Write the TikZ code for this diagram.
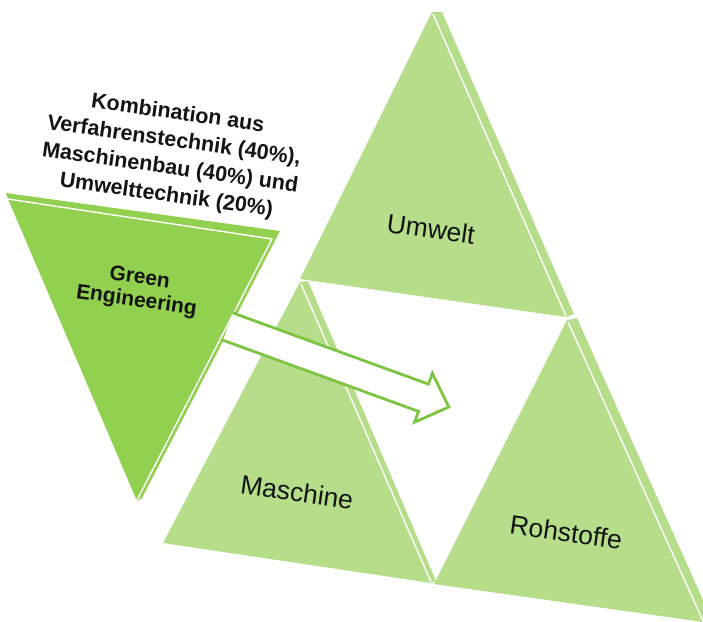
\documentclass[tikz,border=0pt]{standalone}
\usepackage{fontspec}
\setmainfont{Liberation Sans}
\definecolor{leaf}{RGB}{182,221,138}
\definecolor{gegreen}{RGB}{146,208,80}
\definecolor{arrowgreen}{RGB}{124,196,66}
\definecolor{ink}{RGB}{20,20,20}
\begin{document}
\begin{tikzpicture}[x=1pt,y=-1pt,
  lightface/.style={fill=leaf},
  darkface/.style={fill=gegreen},
  bevel/.style={draw=white,line width=1.4pt,line join=round},
  label/.style={text=ink,inner sep=0pt,rotate=-8,font=\fontsize{26.5}{30}\selectfont},
  headline/.style={text=ink,inner sep=0pt,rotate=-8,align=center,font=\fontsize{21}{23}\selectfont\bfseries},
  note/.style={text=ink,inner sep=0pt,rotate=-8,align=center,font=\fontsize{21.5}{27.5}\selectfont\bfseries},
  blockarrow/.style={draw=arrowgreen,line width=2.8pt,line join=miter}]
\useasboundingbox (0,0) rectangle (703,621);
\clip (0,0) rectangle (703,621);

% top triangle (Umwelt) with its side strip
\fill[lightface] (442,12) -- (574,314) -- (566,317) -- (300,279) -- (432,12) -- cycle;
\draw[bevel] (433,14) -- (566,316);

% lower left triangle (Maschine)
\fill[lightface] (308,281) -- (436,581) -- (431,583) -- (163,543) -- (300,282) -- cycle;
\draw[bevel] (301,284) -- (431,582);

% lower right triangle (Rohstoffe)
\fill[lightface] (577,318) -- (712,620) -- (703,622) -- (434,584) -- (567,320) -- cycle;
\draw[bevel] (568,322) -- (703,621);

% inverted triangle (Green Engineering) with top and right strips
\fill[darkface] (6,193) -- (280,231) -- (142,498) -- (137,501) -- (8,199) -- cycle;
\draw[bevel] (8,199) -- (272,239) -- (137,500);

% block arrow from Green Engineering into the pyramid
\begin{scope}[shift={(228,326.6)},rotate=-20]
  \coordinate (tailup) at (0,-14.5);
  \coordinate (shaftup) at (208,-14.5);
  \coordinate (barbup) at (208,-26);
  \coordinate (tip) at (235,0);
  \coordinate (barblow) at (208,26);
  \coordinate (shaftlow) at (208,14.5);
  \coordinate (taillow) at (0,14.5);
  \fill[white] (tailup) -- (shaftup) -- (barbup) -- (tip) -- (barblow) -- (shaftlow) -- (taillow) -- cycle;
  \draw[blockarrow] (tailup) -- (shaftup) -- (barbup) -- (tip) -- (barblow) -- (shaftlow) -- (taillow);
\end{scope}

% labels
\node[note] (combo) at (172,155) {Kombination aus\\Verfahrenstechnik (40\%),\\Maschinenbau (40\%) und\\Umwelttechnik (20\%)};
\node[headline] (ge) at (138,290) {Green\\Engineering};
\node[label] (umwelt) at (431,229) {Umwelt};
\node[label] (maschine) at (297,492) {Maschine};
\node[label] (rohstoffe) at (566,532) {Rohstoffe};
\end{tikzpicture}
\end{document}
